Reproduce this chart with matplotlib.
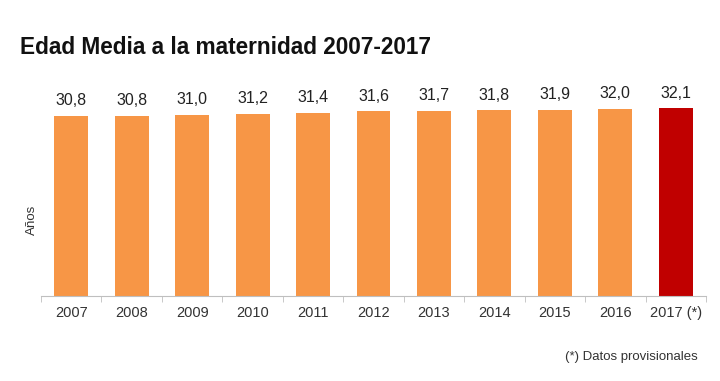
import numpy as np
import matplotlib.pyplot as plt
from matplotlib.ticker import FixedLocator

plt.rcParams['font.family'] = ['Liberation Sans', 'DejaVu Sans']

# datos: edad media a la maternidad
years = ['2007', '2008', '2009', '2010', '2011', '2012', '2013', '2014', '2015', '2016', '2017 (*)']
edad = [30.8, 30.8, 31.0, 31.2, 31.4, 31.6, 31.7, 31.8, 31.9, 32.0, 32.1]
colores = ['#F79646'] * 10 + ['#C00000']

fig = plt.figure(figsize=(7.2, 3.81), dpi=100)
# ejes colocados en pixeles: x 41..706, base en y=296
ax = fig.add_axes([41 / 720, (381 - 296) / 381, 665 / 720, 204.5 / 381])

x = np.arange(len(years))
ax.bar(x, edad, width=0.56, color=colores)
for xi, v in zip(x, edad):
    ax.text(xi, v + 1.3, f'{v:.1f}'.replace('.', ','), ha='center', va='bottom',
            fontsize=11.5, color='#222222')

ax.set_xlim(-0.5, len(years) - 0.5)
ax.set_ylim(0, 35)
ax.set_yticks([])
for s in ['top', 'right', 'left']:
    ax.spines[s].set_visible(False)
ax.spines['bottom'].set_color('#BFBFBF')
ax.set_xticks(x)
ax.set_xticklabels(years, fontsize=10.5, color='#333333')
ax.tick_params(axis='x', which='major', length=0, pad=7)
ax.xaxis.set_minor_locator(FixedLocator(np.arange(-0.5, len(years), 1)))
ax.tick_params(axis='x', which='minor', length=4, color='#BFBFBF')

fig.text(32 / 720, 1 - 220 / 381, 'Años', rotation=90, ha='center', va='center',
         fontsize=9.5, color='#333333')
fig.text(20 / 720, 1 - 47 / 381, 'Edad Media a la maternidad 2007-2017',
         fontsize=16.3, fontweight='bold', ha='left', va='center', color='#111111')
fig.text(698 / 720, 1 - 357 / 381, '(*) Datos provisionales', fontsize=9.5,
         ha='right', va='center', color='#333333')

fig.savefig('out.png', dpi=100)
